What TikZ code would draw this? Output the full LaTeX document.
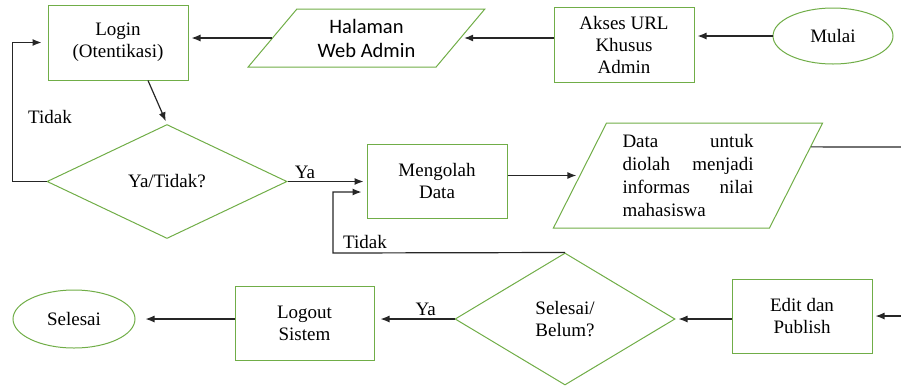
\documentclass[tikz,border=0pt]{standalone}
\usepackage{fontspec}
\setmainfont{Liberation Serif}
\newfontfamily\flowfont{Liberation Serif}
\newfontfamily\calibrifont{Carlito}
\usetikzlibrary{shapes.geometric,arrows.meta,calc}

\definecolor{flowgreen}{RGB}{112,173,71}
\tikzset{
    flowbox/.style={draw=flowgreen, line width=1pt, rectangle, minimum width=140pt,
        minimum height=75pt, align=center},
    flowio/.style={draw=flowgreen, line width=1pt, trapezium, trapezium stretches=true,
        align=center, inner sep=2pt},
    flowend/.style={draw=flowgreen, line width=1pt, ellipse, minimum width=120pt,
        minimum height=56pt},
    flowask/.style={draw=flowgreen, line width=1pt, diamond, align=center, inner sep=0pt},
    flowwire/.style={line width=1.2pt, draw=black!85},
    flowline/.style={flowwire, -{Latex[length=9pt,width=7pt]}, shorten >=3pt},
}

\begin{document}
\begin{tikzpicture}[x=1pt, y=-1pt, font=\flowfont\fontsize{19}{22}\selectfont]
    \useasboundingbox (0,0) rectangle (901,386);
    % top row
    \node [flowend] (mulai) at (833,36) {Mulai};
    \node [flowbox] (akses) at (624,44.5) {Akses URL\\Khusus\\Admin};
    \node [flowio, trapezium left angle=50, trapezium right angle=130, minimum width=237pt,
        minimum height=58pt, font=\calibrifont\fontsize{20.5}{24}\selectfont] (halaman)
        at (366.5,38) {Halaman\\Web Admin};
    \node [flowbox] (login) at (118,42.5) {Login\\(Otentikasi)};
    % middle row
    \node [flowask, minimum width=240pt, minimum height=114pt] (cekya) at (167,181.5)
        {Ya/Tidak?};
    \node [flowbox, minimum height=74pt] (mengolah) at (437,181) {Mengolah\\Data};
    \node [flowio, trapezium left angle=63, trapezium right angle=117, minimum width=270pt,
        minimum height=105pt, text width=131pt, align=left,
        font=\flowfont\fontsize{19}{23}\selectfont] (data) at (688,175.5)
        {Data\hfill untuk\\diolah\hfill menjadi\\informas\hfill nilai\\mahasiswa};
    % bottom row
    \node [flowbox, minimum height=74pt] (edit) at (802,316) {Edit dan\\Publish};
    \node [flowask, minimum width=220pt, minimum height=132pt] (cekselesai) at (565,319)
        {Selesai/\\Belum?};
    \node [flowbox, minimum width=139pt, minimum height=74pt] (logout) at (304.5,323)
        {Logout\\Sistem};
    \node [flowend, minimum width=122pt, minimum height=58pt] (selesai) at (74,319)
        {Selesai};

    \draw [flowline] (mulai.west) -- (mulai.west -| akses.east);
    \draw [flowline] (akses.west |- halaman.east) -- (halaman.east);
    \draw [flowline] (halaman.west) -- (halaman.west -| login.east);
    \draw [flowline] ([xshift=30pt]login.south) -- (cekya.north);
    \draw [flowline, shorten >=6pt] (cekya.west) -- ++(-34,0) |- (login.west);
    \node (tidakatas) at (50,117) {Tidak};
    \draw [flowline] (cekya.east) -- (cekya.east -| mengolah.west)
        node[pos=0.22, above, yshift=-1pt] (yaatas) {Ya};
    \draw [flowline] (mengolah.east |- data.west) -- (data.west);
    \coordinate (dataout) at ($(data.top right corner)!0.23!(data.bottom right corner)$);
    \coordinate (tepikeluar) at (901,147);
    \draw [flowwire] (dataout) -- (tepikeluar);
    \coordinate (tepimasuk) at (901,316);
    \draw [flowline] (tepimasuk) -- (edit.east);
    \draw [flowline] (edit.west |- cekselesai.east) -- (cekselesai.east);
    \draw [flowline, shorten >=6pt] (cekselesai.west) -- (cekselesai.west -| logout.east)
        node[pos=0.36, above, yshift=-1pt] (yabawah) {Ya};
    \draw [flowline, shorten >=10pt] (logout.west |- selesai.east) -- (selesai.east);
    \draw [flowline, shorten >=5pt] (cekselesai.north) -- (333,253)
        |- ([yshift=-11pt]mengolah.west);
    \node (tidakbawah) at (365,242) {Tidak};
\end{tikzpicture}
\end{document}
